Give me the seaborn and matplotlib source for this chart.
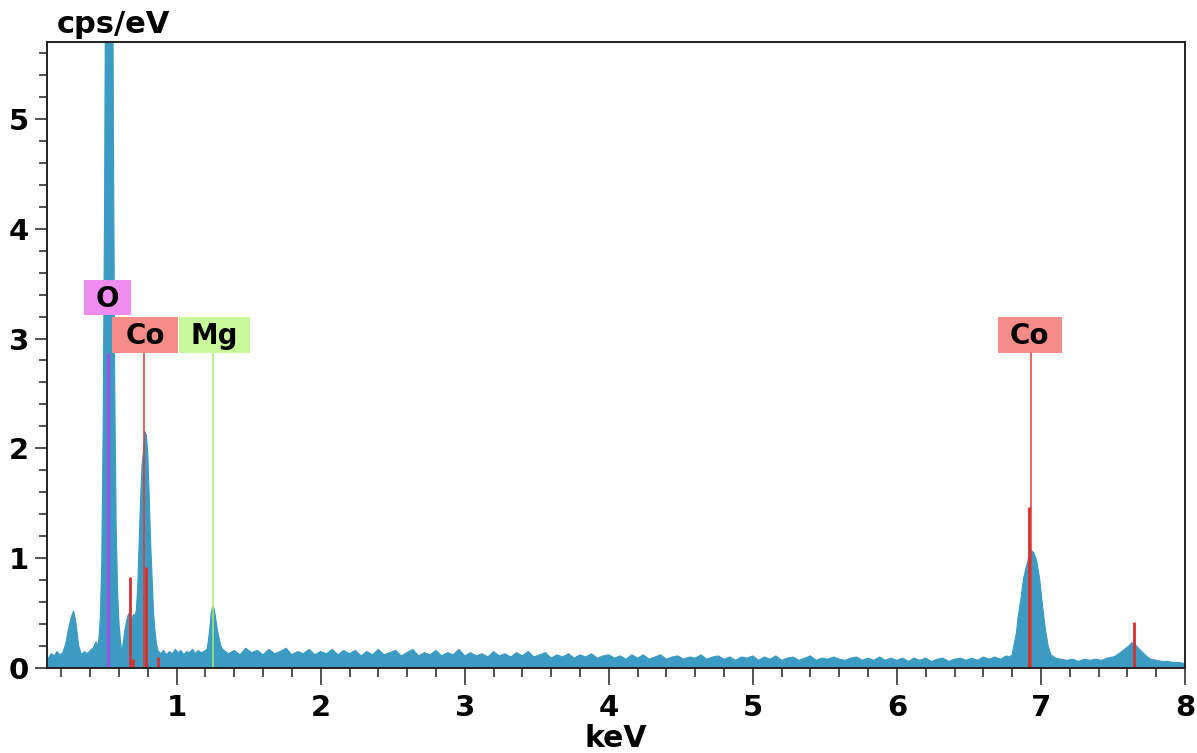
import numpy as np
import matplotlib
matplotlib.use("Agg")
import matplotlib.pyplot as plt
from matplotlib.patches import Rectangle
from matplotlib.ticker import MultipleLocator
import seaborn as sns

# --- spectrum (keV, cps/eV) ---
low_kev = [0.10, 0.11, 0.13, 0.15, 0.17, 0.19, 0.21, 0.23, 0.25, 0.27, 0.285, 0.30,
           0.32, 0.34, 0.36, 0.38, 0.40, 0.42, 0.44,
           0.45, 0.46, 0.47, 0.48, 0.49, 0.50, 0.51, 0.52, 0.53, 0.54, 0.55, 0.56,
           0.57, 0.58, 0.59, 0.60, 0.61, 0.62, 0.63, 0.64, 0.65, 0.66, 0.67, 0.68,
           0.69, 0.70, 0.71, 0.72, 0.73, 0.74, 0.75, 0.76, 0.77, 0.78, 0.79, 0.80,
           0.81, 0.82, 0.83, 0.84, 0.85, 0.86, 0.87, 0.89, 0.91, 0.93, 0.95, 0.97,
           0.99, 1.01, 1.03, 1.05, 1.07, 1.09, 1.11, 1.13, 1.15, 1.17, 1.19,
           1.21, 1.22, 1.23, 1.24, 1.25, 1.26, 1.27, 1.28, 1.29, 1.30, 1.31]
low_cps = [0.04, 0.09, 0.13, 0.11, 0.15, 0.12, 0.14, 0.22, 0.36, 0.47, 0.52, 0.42,
           0.20, 0.12, 0.15, 0.13, 0.16, 0.18, 0.24,
           0.20, 0.26, 0.45, 0.95, 2.2, 4.3, 7.6, 11.8, 14.2, 12.5, 8.8, 5.2,
           2.6, 1.3, 0.70, 0.40, 0.25, 0.14, 0.24, 0.34, 0.41, 0.47, 0.50, 0.46,
           0.44, 0.49, 0.47, 0.52, 0.75, 1.15, 1.55, 1.85, 1.98, 2.15, 2.12, 1.95,
           1.55, 1.12, 0.80, 0.50, 0.33, 0.22, 0.16, 0.13, 0.16, 0.12, 0.15, 0.13,
           0.17, 0.14, 0.16, 0.12, 0.15, 0.14, 0.17, 0.13, 0.16, 0.14, 0.15,
           0.17, 0.24, 0.36, 0.50, 0.56, 0.54, 0.46, 0.37, 0.30, 0.24, 0.19]

# flat background, channels every 0.04 keV from 1.32 keV
mid_start_kev = 1.32
mid_step_kev = 0.04
mid_cps = [0.17, 0.13, 0.16, 0.12, 0.18, 0.14, 0.16, 0.12, 0.17, 0.13, 0.15, 0.18,
           0.12, 0.15, 0.13, 0.17, 0.12, 0.15, 0.13, 0.17, 0.12, 0.16, 0.13, 0.16,
           0.11, 0.15, 0.12, 0.17, 0.12, 0.14, 0.16, 0.11, 0.14, 0.17, 0.11, 0.14,
           0.12, 0.16, 0.11, 0.14, 0.12, 0.17, 0.11, 0.14, 0.11, 0.13, 0.10, 0.15,
           0.11, 0.13, 0.10, 0.14, 0.11, 0.15, 0.10, 0.12, 0.14, 0.09, 0.12, 0.10,
           0.13, 0.09, 0.12, 0.10, 0.13, 0.09, 0.11, 0.12, 0.09, 0.11, 0.08, 0.12,
           0.09, 0.12, 0.08, 0.10, 0.12, 0.08, 0.10, 0.11, 0.08, 0.10, 0.09, 0.12,
           0.08, 0.10, 0.11, 0.08, 0.10, 0.07, 0.10, 0.09, 0.11, 0.07, 0.10, 0.08,
           0.11, 0.07, 0.09, 0.10, 0.07, 0.09, 0.11, 0.07, 0.09, 0.08, 0.10, 0.08,
           0.07, 0.09, 0.10, 0.07, 0.09, 0.07, 0.10, 0.07, 0.09, 0.07, 0.09, 0.06,
           0.09, 0.07, 0.09, 0.06, 0.08, 0.09, 0.06, 0.08, 0.09, 0.07, 0.09, 0.07,
           0.10, 0.08, 0.10, 0.08, 0.11]

high_kev = [6.78, 6.80, 6.81, 6.83, 6.84, 6.86, 6.88, 6.90, 6.92, 6.935, 6.95, 6.97,
            6.99, 7.01, 7.03, 7.05, 7.07, 7.10, 7.14, 7.18, 7.22, 7.26, 7.30, 7.34,
            7.38, 7.42, 7.46, 7.50, 7.52, 7.55, 7.58, 7.61, 7.63, 7.65, 7.67, 7.70,
            7.73, 7.76, 7.80, 7.84, 7.88, 7.92, 7.96, 8.00]
high_cps = [0.10, 0.12, 0.19, 0.32, 0.45, 0.62, 0.82, 0.93, 1.02, 1.07, 1.05, 0.98,
            0.82, 0.58, 0.36, 0.20, 0.12, 0.09, 0.08, 0.07, 0.08, 0.06, 0.08, 0.07,
            0.08, 0.07, 0.09, 0.10, 0.11, 0.14, 0.17, 0.20, 0.23, 0.22, 0.19, 0.15,
            0.11, 0.08, 0.07, 0.06, 0.06, 0.05, 0.05, 0.04]

# element lines with labels
label_text = ["O", "Co", "Mg", "Co"]
label_kev = [0.525, 0.776, 1.254, 6.928]
label_line_top = 2.87
# extra line markers (keV, height)
extra_kev = [0.678, 0.694, 0.785, 0.870, 6.915, 7.649]
extra_cps = [0.83, 0.08, 0.92, 0.10, 1.47, 0.42]

# --- layout / style ---
blue = "#3b9bc3"
line_colors = ["#a050e6", "#e03a36", "#a8ee70", "#e03a36"]
box_colors = ["#f08cf0", "#f58c87", "#c8fa9b", "#f58c87"]
# box extents in data units: (x0, x1, y0, y1)
box_extent = [(0.358, 0.686, 3.21, 3.53),
              (0.553, 1.006, 2.87, 3.20),
              (1.013, 1.508, 2.87, 3.20),
              (6.703, 7.143, 2.87, 3.20)]

energy = np.concatenate([low_kev,
                         mid_start_kev + mid_step_kev * np.arange(len(mid_cps)),
                         high_kev])
counts = np.concatenate([low_cps, mid_cps, high_cps])

sns.set_theme(style="ticks")
plt.rcParams["font.family"] = ["DejaVu Sans"]
plt.rcParams["font.weight"] = "bold"
plt.rcParams["text.color"] = "black"
plt.rcParams["xtick.labelcolor"] = "black"
plt.rcParams["ytick.labelcolor"] = "black"

fig = plt.figure(figsize=(11.97, 7.53), dpi=100)
ax = fig.add_axes([47 / 1197, 85 / 753, 1138 / 1197, 626 / 753])

ax.fill_between(energy, counts, 0, color=blue, lw=0, zorder=1)
sns.lineplot(x=energy, y=counts, ax=ax, color=blue, lw=0.8, sort=False, zorder=1)

for k, c in zip(label_kev, line_colors):
    lw = 2.2 if c == "#a050e6" else 1.1
    ax.vlines(k, 0, label_line_top, color=c, lw=lw, zorder=2)
ax.vlines(extra_kev, 0, extra_cps, color="#d8302e", lw=2.0, zorder=2)

for txt, (x0, x1, y0, y1), fc in zip(label_text, box_extent, box_colors):
    ax.add_patch(Rectangle((x0, y0), x1 - x0, y1 - y0, facecolor=fc,
                           edgecolor="none", zorder=3))
    ax.text((x0 + x1) / 2, (y0 + y1) / 2 - 0.01, txt, ha="center", va="center",
            fontsize=20, fontweight="bold", color="black", zorder=4)

ax.set_xlim(0.1, 8.0)
ax.set_ylim(0, 5.7)
ax.xaxis.set_major_locator(MultipleLocator(1))
ax.xaxis.set_minor_locator(MultipleLocator(0.2))
ax.yaxis.set_major_locator(MultipleLocator(1))
ax.yaxis.set_minor_locator(MultipleLocator(0.2))
ax.set_xticks([1, 2, 3, 4, 5, 6, 7, 8])
ax.tick_params(axis="x", which="major", length=12, width=1.2, color="#333333",
               pad=7, labelsize=21, labelcolor="black")
ax.tick_params(axis="x", which="minor", length=6.5, width=1.2, color="#333333")
ax.tick_params(axis="y", which="major", length=9, width=1.2, color="#333333",
               pad=4, labelsize=21, labelcolor="black")
ax.tick_params(axis="y", which="minor", length=6, width=1.2, color="#333333")
for lab in ax.get_xticklabels() + ax.get_yticklabels():
    lab.set_fontweight("bold")

for s in ax.spines.values():
    s.set_visible(True)
    s.set_linewidth(1.4)
    s.set_color("#222222")

ax.set_xlabel("keV", fontsize=21.5, fontweight="bold", labelpad=1, color="black")
ax.set_ylabel("")
fig.text(57 / 1197, 1 - 33 / 753, "cps/eV", fontsize=22, fontweight="bold",
         ha="left", va="baseline", color="black")

fig.savefig("out.png", dpi=100, facecolor="white")
